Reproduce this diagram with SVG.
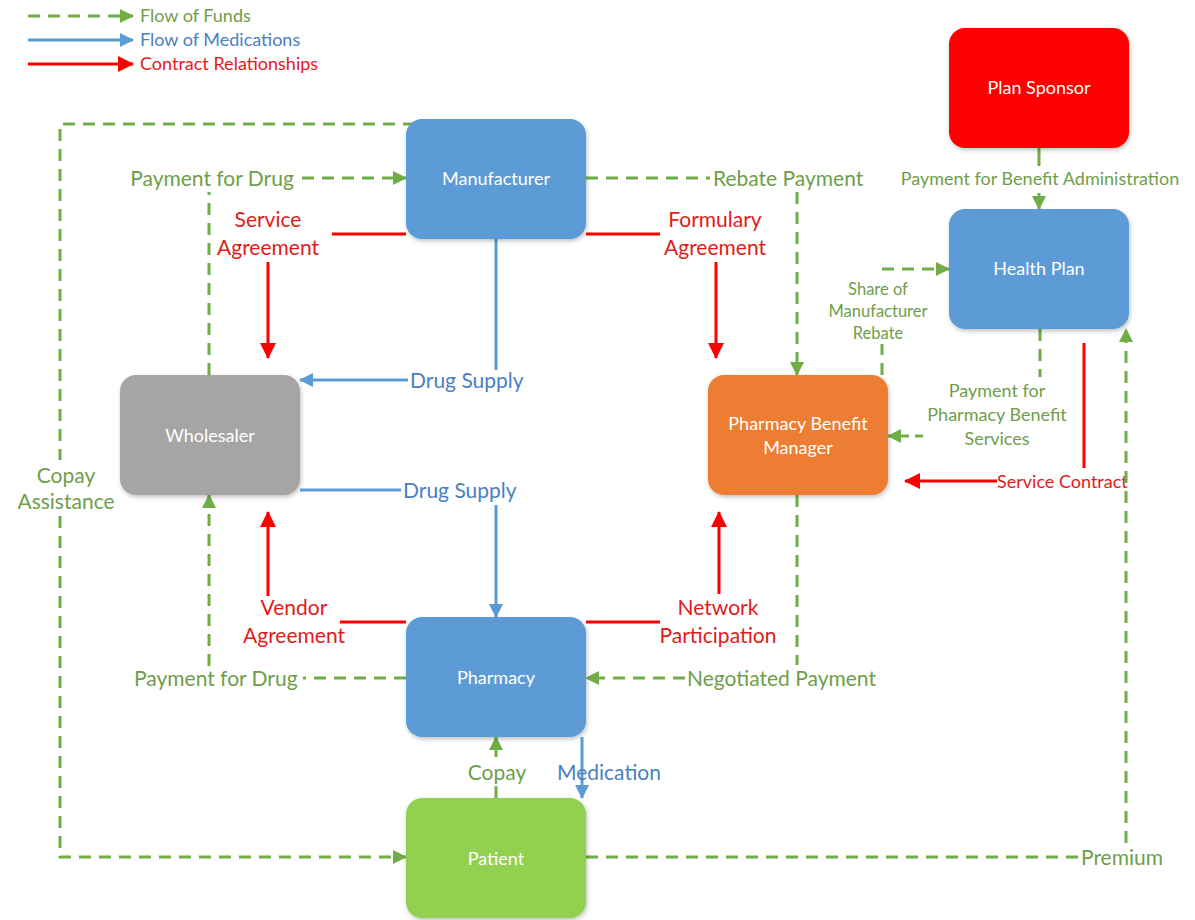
<svg xmlns="http://www.w3.org/2000/svg" width="1195" height="920" viewBox="0 0 1195 920">
<style>
.g{stroke:#70ad47;stroke-width:3;fill:none;stroke-dasharray:12 8}
.b{stroke:#5b9bd5;stroke-width:3;fill:none}
.r{stroke:#ff0000;stroke-width:3;fill:none}
.tg{fill:#6e9e4a;font-family:Lato,"Liberation Sans",sans-serif;font-size:21px}
.tb{fill:#4a80c0;font-family:Lato,"Liberation Sans",sans-serif;font-size:21px}
.tr{fill:#e21a1a;font-family:Lato,"Liberation Sans",sans-serif;font-size:21px}
.lg{font-size:18px}
.s18{font-size:18px}
.s17{font-size:16.5px}
.nl{fill:#fff;font-family:Lato,"Liberation Sans",sans-serif;font-size:18px;text-anchor:middle}
.c{text-anchor:middle}
</style>
<defs>
<marker id="ag" markerUnits="userSpaceOnUse" markerWidth="14" markerHeight="14" refX="13" refY="7" orient="auto"><path d="M0,0 L14,7 L0,14 z" fill="#70ad47"/></marker>
<marker id="ab" markerUnits="userSpaceOnUse" markerWidth="14" markerHeight="14" refX="13" refY="7" orient="auto"><path d="M0,0 L14,7 L0,14 z" fill="#5b9bd5"/></marker>
<marker id="ar" markerUnits="userSpaceOnUse" markerWidth="16" markerHeight="16" refX="15" refY="8" orient="auto"><path d="M0,0 L16,8 L0,16 z" fill="#ff0000"/></marker>
<filter id="sh" x="-10%" y="-10%" width="130%" height="130%"><feDropShadow dx="1" dy="2" stdDeviation="2" flood-color="#000" flood-opacity="0.25"/></filter>
</defs>

<g id="legend">
<line class="g" x1="28" y1="16" x2="133" y2="16" marker-end="url(#ag)"/>
<text class="tg lg" x="140" y="22">Flow of Funds</text>
<line class="b" x1="28" y1="40" x2="133" y2="40" marker-end="url(#ab)"/>
<text class="tb lg" x="140" y="46">Flow of Medications</text>
<line class="r" x1="28" y1="64" x2="133" y2="64" marker-end="url(#ar)"/>
<text class="tr lg" x="140" y="70">Contract Relationships</text>
</g>

<g id="connectors">
<!-- Copay assistance -->
<polyline class="g" points="415,124 60,124 60,460"/>
<polyline class="g" points="60,516 60,857 406,857" marker-end="url(#ag)"/>
<text class="tg c" x="66" y="483">Copay</text>
<text class="tg c" x="66" y="509">Assistance</text>
<!-- Payment for Drug top -->
<line class="g" x1="209" y1="375" x2="209" y2="192"/>
<text class="tg c" x="212" y="186">Payment for Drug</text>
<line class="g" x1="302" y1="178" x2="406" y2="178" marker-end="url(#ag)"/>
<!-- Service Agreement -->
<line class="r" x1="332" y1="234" x2="406" y2="234"/>
<text class="tr c" x="268" y="227">Service</text>
<text class="tr c" x="268" y="255">Agreement</text>
<line class="r" x1="268" y1="262" x2="268" y2="358" marker-end="url(#ar)"/>
<!-- Drug supply top -->
<polyline class="b" points="496,239 496,370"/>
<line class="b" x1="408" y1="380" x2="300" y2="380" marker-end="url(#ab)"/>
<text class="tb" x="410" y="388">Drug Supply</text>
<!-- Formulary Agreement -->
<line class="r" x1="586" y1="234" x2="660" y2="234"/>
<text class="tr c" x="715" y="227">Formulary</text>
<text class="tr c" x="715" y="255">Agreement</text>
<line class="r" x1="716" y1="262" x2="716" y2="358" marker-end="url(#ar)"/>
<!-- Rebate payment -->
<line class="g" x1="586" y1="178" x2="710" y2="178"/>
<text class="tg" x="713" y="186">Rebate Payment</text>
<line class="g" x1="797" y1="192" x2="797" y2="375" marker-end="url(#ag)"/>
<!-- Payment for Benefit Administration -->
<line class="g" x1="1039" y1="148" x2="1039" y2="166" style="stroke-dasharray:none"/>
<text class="tg c s18" x="1040" y="185">Payment for Benefit Administration</text>
<line class="g" x1="1039" y1="193" x2="1039" y2="209" marker-end="url(#ag)" style="stroke-dasharray:none"/>
<!-- Share of Manufacturer Rebate -->
<line class="g" x1="882" y1="375" x2="882" y2="344"/>
<text class="tg c s17" x="878" y="295">Share of</text>
<text class="tg c s17" x="878" y="317">Manufacturer</text>
<text class="tg c s17" x="878" y="339">Rebate</text>
<line class="g" x1="882" y1="269" x2="949" y2="269" marker-end="url(#ag)"/>
<!-- Payment for Pharmacy Benefit Services -->
<line class="g" x1="1040" y1="329" x2="1040" y2="377"/>
<text class="tg c s18" x="997" y="397">Payment for</text>
<text class="tg c s18" x="997" y="421">Pharmacy Benefit</text>
<text class="tg c s18" x="997" y="445">Services</text>
<line class="g" x1="923" y1="436" x2="888" y2="436" marker-end="url(#ag)" style="stroke-dasharray:8 6"/>
<!-- Service Contract -->
<line class="r" x1="1084" y1="343" x2="1084" y2="468"/>
<text class="tr s18" x="997" y="488">Service Contract</text>
<line class="r" x1="997" y1="481" x2="905" y2="481" marker-end="url(#ar)"/>
<!-- Premium -->
<line class="g" x1="586" y1="857" x2="1078" y2="857"/>
<text class="tg" x="1081" y="865">Premium</text>
<line class="g" x1="1126" y1="843" x2="1126" y2="329" marker-end="url(#ag)"/>
<!-- Drug supply bottom -->
<line class="b" x1="300" y1="490" x2="401" y2="490"/>
<text class="tb" x="403" y="498">Drug Supply</text>
<line class="b" x1="496" y1="505" x2="496" y2="617" marker-end="url(#ab)"/>
<!-- Vendor Agreement -->
<line class="r" x1="340" y1="622" x2="406" y2="622"/>
<text class="tr c" x="294" y="615">Vendor</text>
<text class="tr c" x="294" y="643">Agreement</text>
<line class="r" x1="268" y1="596" x2="268" y2="512" marker-end="url(#ar)"/>
<!-- Payment for Drug bottom -->
<line class="g" x1="406" y1="678" x2="303" y2="678"/>
<text class="tg" x="134" y="686">Payment for Drug</text>
<line class="g" x1="209" y1="666" x2="209" y2="495" marker-end="url(#ag)"/>
<!-- Network Participation -->
<line class="r" x1="586" y1="622" x2="660" y2="622"/>
<text class="tr c" x="718" y="615">Network</text>
<text class="tr c" x="718" y="643">Participation</text>
<line class="r" x1="719" y1="594" x2="719" y2="512" marker-end="url(#ar)"/>
<!-- Negotiated Payment -->
<line class="g" x1="797" y1="495" x2="797" y2="665"/>
<text class="tg" x="687" y="686">Negotiated Payment</text>
<line class="g" x1="685" y1="678" x2="586" y2="678" marker-end="url(#ag)"/>
<!-- Copay -->
<line class="g" x1="496" y1="798" x2="496" y2="786" style="stroke-dasharray:none"/>
<text class="tg c" x="497" y="780">Copay</text>
<line class="g" x1="496" y1="757" x2="496" y2="737" marker-end="url(#ag)" style="stroke-dasharray:none"/>
<!-- Medication -->
<line class="b" x1="582" y1="737" x2="582" y2="798" marker-end="url(#ab)"/>
<text class="tb" x="557" y="780">Medication</text>
</g>

<g id="manufacturer"><rect x="406" y="119" width="180" height="120" rx="16" fill="#5b9bd5" filter="url(#sh)"/><text class="nl" x="496" y="185">Manufacturer</text></g>
<g id="plan-sponsor"><rect x="949" y="28" width="180" height="120" rx="16" fill="#ff0000" filter="url(#sh)"/><text class="nl" x="1039" y="94">Plan Sponsor</text></g>
<g id="health-plan"><rect x="949" y="209" width="180" height="120" rx="16" fill="#5b9bd5" filter="url(#sh)"/><text class="nl" x="1039" y="275">Health Plan</text></g>
<g id="wholesaler"><rect x="120" y="375" width="180" height="120" rx="16" fill="#a5a5a5" filter="url(#sh)"/><text class="nl" x="210" y="442">Wholesaler</text></g>
<g id="pbm"><rect x="708" y="375" width="180" height="120" rx="16" fill="#ed7d31" filter="url(#sh)"/><text class="nl" x="798" y="430">Pharmacy Benefit</text><text class="nl" x="798" y="454">Manager</text></g>
<g id="pharmacy"><rect x="406" y="617" width="180" height="120" rx="16" fill="#5b9bd5" filter="url(#sh)"/><text class="nl" x="496" y="684">Pharmacy</text></g>
<g id="patient"><rect x="406" y="798" width="180" height="120" rx="16" fill="#92d050" filter="url(#sh)"/><text class="nl" x="496" y="865">Patient</text></g>
</svg>
